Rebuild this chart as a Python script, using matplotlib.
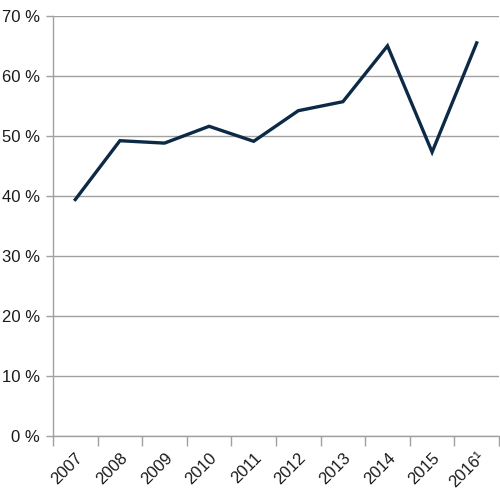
import numpy as np
import matplotlib
matplotlib.use('Agg')
import matplotlib.pyplot as plt

plt.rcParams['font.family'] = ['Liberation Sans', 'DejaVu Sans']

years = ['2007', '2008', '2009', '2010', '2011', '2012', '2013', '2014', '2015', '2016¹']
share = [39.4, 49.2, 48.8, 51.6, 49.1, 54.2, 55.7, 65.0, 47.3, 65.5]
y_ticks = [0, 10, 20, 30, 40, 50, 60, 70]

fig = plt.figure(figsize=(5, 4.96), dpi=100)
ax = fig.add_axes([0.106, 0.121, 0.892, 0.847])

x = np.arange(len(years))
ax.plot(x, share, color='#0c2a45', linewidth=2.4, solid_joinstyle='miter')

ax.set_xlim(-0.5, len(years) - 0.5)
ax.set_ylim(0, 70)
ax.set_yticks(y_ticks)
ax.set_yticklabels(['{} %'.format(v) for v in y_ticks], fontsize=12, color='#1a1a1a')
ax.set_xticks(x)
ax.set_xticklabels(years, rotation=45, ha='right', rotation_mode='anchor', fontsize=12, color='#1a1a1a')
ax.set_xticks(np.arange(-0.5, len(years)), minor=True)

ax.tick_params(axis='x', which='major', length=0, pad=10)
ax.tick_params(axis='x', which='minor', length=7.5, color='#a0a0a0', width=1)
ax.tick_params(axis='y', length=4.7, color='#a0a0a0', width=1, pad=4.5)

ax.yaxis.grid(True, color='#a0a0a0', linewidth=1)
ax.set_axisbelow(True)
for s in ['top', 'right']:
    ax.spines[s].set_visible(False)
for s in ['left', 'bottom']:
    ax.spines[s].set_color('#a0a0a0')
    ax.spines[s].set_linewidth(1)

fig.savefig('out.png', dpi=100)
